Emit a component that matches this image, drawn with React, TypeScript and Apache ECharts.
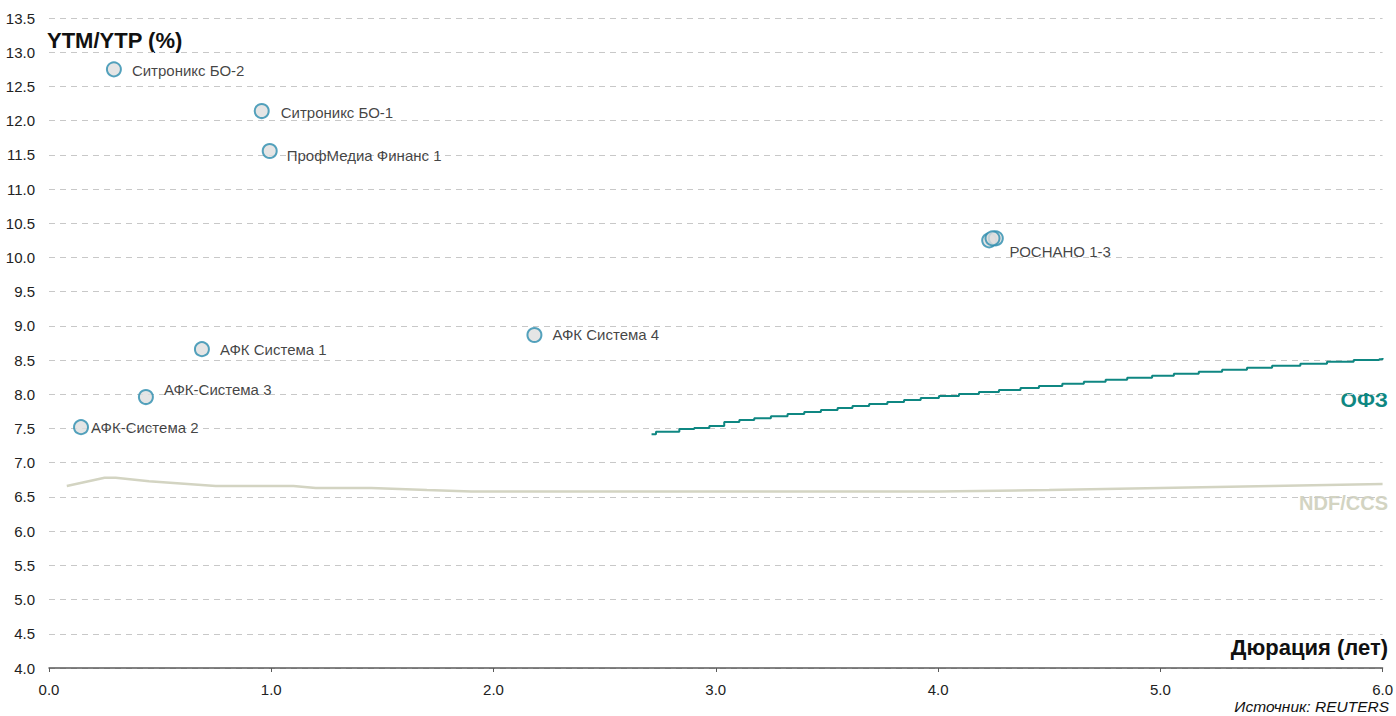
import React, { useEffect, useRef } from "react";
import * as echarts from "echarts";

// Bonds: [duration, yield]
const bondNames = [
  "Ситроникс БО-2",
  "Ситроникс БО-1",
  "ПрофМедиа Финанс 1",
  "РОСНАНО 1",
  "РОСНАНО 2",
  "РОСНАНО 1-3",
  "АФК Система 4",
  "АФК Система 1",
  "АФК-Система 3",
  "АФК-Система 2",
];
const bondDuration = [0.292, 0.957, 0.993, 4.23, 4.26, 4.245, 2.184, 0.688, 0.436, 0.144];
const bondYield = [12.75, 12.14, 11.556, 10.25, 10.28, 10.28, 8.867, 8.66, 7.96, 7.52];
const bondShowLabel = [true, true, true, false, false, true, true, true, true, true];

// ОФЗ curve
const ofzDuration = [
  2.711, 2.731, 2.783, 2.836, 2.903, 2.971, 3.038, 3.106, 3.173, 3.248, 3.323, 3.398, 3.473,
  3.548, 3.615, 3.69, 3.772, 3.847, 3.922, 4.004, 4.094, 4.184, 4.274, 4.371, 4.454, 4.559,
  4.656, 4.754, 4.851, 4.963, 5.061, 5.173, 5.278, 5.39, 5.503, 5.63, 5.75, 5.87, 5.985, 6.0,
];
const ofzYield = [
  7.416, 7.454, 7.454, 7.493, 7.508, 7.537, 7.595, 7.625, 7.649, 7.679, 7.712, 7.742, 7.771,
  7.8, 7.829, 7.859, 7.888, 7.917, 7.946, 7.976, 8.005, 8.034, 8.063, 8.092, 8.121, 8.155,
  8.185, 8.214, 8.243, 8.273, 8.301, 8.331, 8.36, 8.389, 8.418, 8.447, 8.477, 8.501, 8.512, 8.53,
];

// NDF/CCS curve
const ndfDuration = [0.08, 0.25, 0.3, 0.45, 0.75, 1.1, 1.2, 1.45, 1.7, 1.9, 4.0, 4.5, 5.0, 5.5, 6.0];
const ndfYield = [6.66, 6.78, 6.78, 6.73, 6.66, 6.66, 6.63, 6.63, 6.6, 6.58, 6.58, 6.6, 6.63, 6.66, 6.69];

// Label placement (layout only)
const labelOffsets: Record<string, [number, number]> = {
  "Ситроникс БО-2": [5, 1],
  "Ситроникс БО-1": [6, 1],
  "ПрофМедиа Финанс 1": [4, 4],
  "РОСНАНО 1-3": [4, 13],
  "АФК Система 4": [5, 0],
  "АФК Система 1": [5, 0],
  "АФК-Система 3": [5, -8],
  "АФК-Система 2": [-3, 0],
};

const FONT = "Liberation Sans, Arial, sans-serif";

export default function App() {
  const ref = useRef<HTMLDivElement>(null);
  useEffect(() => {
    document.body.style.margin = "0";
    const chart = echarts.init(ref.current!, null, { renderer: "svg" });
    const bondData = bondNames.map((n, i) => ({
      name: n,
      value: [bondDuration[i], bondYield[i]],
      label: {
        show: bondShowLabel[i],
        position: "right",
        offset: labelOffsets[n] || [0, 0],
        formatter: n,
      },
    }));
    chart.setOption({
      animation: false,
      textStyle: { fontFamily: FONT },
      grid: { left: 49, right: 12, top: 18, bottom: 48, containLabel: false },
      xAxis: {
        type: "value",
        min: 0,
        max: 6,
        interval: 1,
        axisLine: { show: true, lineStyle: { color: "#5a5a5a", width: 1.5 } },
        axisTick: { show: true, length: 4, lineStyle: { color: "#5a5a5a" } },
        splitLine: { show: false },
        axisLabel: {
          formatter: (v: number) => v.toFixed(1),
          color: "#222",
          fontSize: 15,
          fontFamily: FONT,
          margin: 14,
        },
      },
      yAxis: {
        type: "value",
        min: 4,
        max: 13.5,
        interval: 0.5,
        axisLine: { show: false },
        axisTick: { show: false },
        splitLine: { show: true, lineStyle: { color: "#c8c8c8", type: [6, 5], width: 1 } },
        axisLabel: {
          formatter: (v: number) => v.toFixed(1),
          color: "#222",
          fontSize: 15,
          fontFamily: FONT,
          margin: 14,
        },
      },
      series: [
        {
          name: "NDF/CCS",
          type: "line",
          data: ndfDuration.map((d, i) => [d, ndfYield[i]]),
          showSymbol: false,
          lineStyle: { color: "#d3d4c2", width: 2.5 },
          z: 1,
        },
        {
          name: "ОФЗ",
          type: "line",
          step: "end",
          data: ofzDuration.map((d, i) => [d, ofzYield[i]]),
          showSymbol: false,
          lineStyle: { color: "#0f8782", width: 2 },
          z: 2,
        },
        {
          name: "bonds",
          type: "scatter",
          data: bondData,
          symbol: "circle",
          symbolSize: 14,
          itemStyle: { color: "#dedede", borderColor: "#2a8cae", borderWidth: 2 },
          label: { color: "#111", fontSize: 15, fontFamily: FONT },
          z: 3,
        },
      ],
      graphic: [
        {
          type: "text",
          left: 47,
          top: 29,
          style: { text: "YTM/YTP (%)", font: `bold 22px ${FONT}`, fill: "#111" },
        },
        {
          type: "text",
          right: 8,
          top: 636,
          style: { text: "Дюрация (лет)", font: `bold 22px ${FONT}`, fill: "#111" },
        },
        {
          type: "text",
          right: 8,
          top: 389,
          style: { text: "ОФЗ", font: `bold 21px ${FONT}`, fill: "#0f8782" },
        },
        {
          type: "text",
          right: 8,
          top: 493,
          style: { text: "NDF/CCS", font: `bold 20px ${FONT}`, fill: "#d3d4c2" },
        },
        {
          type: "text",
          right: 7,
          top: 698,
          style: { text: "Источник: REUTERS", font: `italic 15.5px ${FONT}`, fill: "#111" },
        },
      ],
    });
    return () => chart.dispose();
  }, []);
  return <div ref={ref} style={{ width: 1396, height: 716 }} />;
}
